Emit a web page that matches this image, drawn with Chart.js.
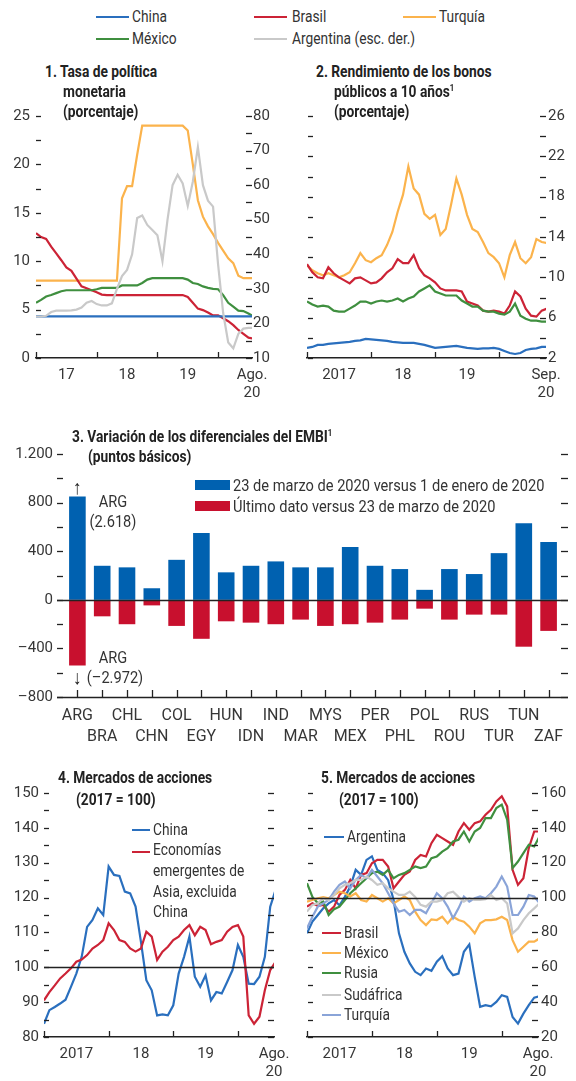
<!DOCTYPE html>
<html lang="es">
<head>
<meta charset="utf-8">
<title>Mercados emergentes</title>
<script src="https://cdn.jsdelivr.net/npm/chart.js@4.4.1/dist/chart.umd.min.js"></script>
<style>
  body { margin: 0; background: #fff; }
  #hoja { position: relative; width: 576px; height: 1081px; overflow: hidden;
          font-family: Roboto, 'Liberation Sans', sans-serif; color: #333; }
  canvas { position: absolute; }
  .txt { position: absolute; white-space: nowrap; font-size: 16px; line-height: 1;
         transform: translateY(-50%) scaleX(0.86); transform-origin: 0 50%; }
  .b { font-weight: bold; color: #222; }
  .ctr { transform: translate(-50%, -50%) scaleX(0.86); transform-origin: 50% 50%; }
  .raya { position: absolute; height: 2px; }
  sup { font-size: 9px; vertical-align: 6px; }
</style>
</head>
<body>
<div id="hoja">
  <canvas id="g1" width="290" height="300" style="left:0;top:100px"></canvas>
  <canvas id="g2" width="286" height="300" style="left:290px;top:100px"></canvas>
  <canvas id="g3" width="576" height="310" style="left:0;top:440px"></canvas>
  <canvas id="g4" width="290" height="301" style="left:0;top:780px"></canvas>
  <canvas id="g5" width="286" height="301" style="left:290px;top:780px"></canvas>
</div>
<script>
// Colores
const AZUL = '#2a6fbe', ROJO = '#cc2336', NARANJA = '#fbb34c', VERDE = '#3f8f3f', GRIS = '#c9c9c9', CELESTE = '#8aa4d8';

// 1. Tasa de politica monetaria (mensual, ene-2017 ...)
const tasaChina = [4.3,4.3,4.3,4.3,4.3,4.3,4.3,4.3,4.3,4.3,4.3,4.3,4.3,4.3,4.3,4.3,4.3,4.3,4.3,4.3,4.3,4.3,4.3,4.3,4.3,4.3,4.3,4.3,4.3,4.3,4.3,4.3,4.3,4.3,4.3,4.3,4.3,4.3,4.3,4.3,4.3,4.3,4.3,4.3];
const tasaBrasil = [12.9,12.5,12.3,11.5,10.8,10.1,9.35,9.0,8.2,7.4,7.2,7.0,6.8,6.55,6.5,6.5,6.5,6.5,6.5,6.5,6.5,6.5,6.5,6.5,6.5,6.5,6.5,6.5,6.5,6.5,6.3,5.7,5.1,4.95,4.7,4.4,4.4,4.1,3.8,3.4,2.9,2.5,2.1,2.0];
const tasaTurquia = [8,8,8,8,8,8,8,8,8,8,8,8,8,8,8,8,8,16.5,17.75,17.75,21,24,24,24,24,24,24,24,24,24,23.5,20,16.3,14.6,13.6,12.8,11.9,11.1,10.3,9.8,8.5,8.25,8.25,8.25];
const tasaMexico = [5.7,6.0,6.35,6.5,6.7,6.9,7.0,7.0,7.0,7.0,7.0,7.0,7.1,7.25,7.25,7.25,7.25,7.5,7.5,7.5,7.5,7.75,8.1,8.25,8.25,8.25,8.25,8.25,8.25,8.25,8.1,7.75,7.65,7.4,7.25,7.15,7.1,6.5,5.7,5.3,4.9,4.85,4.6,4.3];
const tasaArgentina = [22,22,22.2,23.3,23.7,23.7,23.7,23.8,24,24.6,26,26.5,25.6,25.2,25.2,25.8,30,33.7,35.5,40,50.5,51.2,48.5,47,45.5,38,50,60,63,60.5,54,61,71,60,55.5,53.8,37,23,14.5,12.8,17,18.5,18.7,18.7];

// 2. Rendimiento de los bonos publicos a 10 anos
const bonoTurquia = [11.2,10.7,10.4,10.2,10.4,10.2,10.0,10.2,10.5,11.4,12.4,11.7,11.5,11.9,12.2,13.2,14.5,16.5,18.2,21.0,18.8,18.2,16.3,15.8,16.2,14.2,14.8,17.2,19.8,18.2,16.2,14.8,14.5,13.5,12.4,12.0,11.4,10.0,12.2,13.5,11.9,11.4,12.0,13.8,13.5,13.4];
const bonoBrasil = [11.3,10.5,10.0,9.9,11.0,10.4,10.0,9.7,9.4,9.9,10.0,9.7,9.4,9.5,9.9,10.5,10.9,11.8,11.4,11.4,12.2,10.9,10.2,9.9,9.5,8.9,8.7,8.7,8.7,8.6,7.6,7.4,7.2,6.7,6.6,6.7,6.6,6.4,7.2,8.6,8.1,6.9,6.2,6.1,6.7,6.9];
const bonoMexico = [7.6,7.3,7.1,7.2,7.1,6.7,6.6,6.6,6.9,7.2,7.6,7.6,7.4,7.6,7.7,7.6,7.7,7.9,7.6,7.9,8.1,8.6,8.9,9.2,8.6,8.4,8.2,8.2,8.2,7.7,7.4,7.1,7.1,6.7,6.6,6.6,6.4,6.3,6.6,7.4,6.2,5.9,5.7,5.7,5.6,5.6];
const bonoChina = [3.0,3.1,3.3,3.3,3.4,3.45,3.5,3.55,3.6,3.7,3.75,3.9,3.85,3.8,3.75,3.7,3.6,3.55,3.5,3.5,3.5,3.4,3.3,3.15,3.0,3.05,3.1,3.15,3.2,3.1,3.0,2.95,2.9,2.95,2.95,3.0,2.9,2.7,2.5,2.4,2.5,2.8,2.9,2.95,3.1,3.1];

// 3. Variacion de los diferenciales del EMBI
const paises = ['ARG','BRA','CHL','CHN','COL','EGY','HUN','IDN','IND','MAR','MYS','MEX','PER','PHL','POL','ROU','RUS','TUR','TUN','ZAF'];
const difMarzo = [2618,280,267,95,329,550,226,280,316,267,267,435,280,253,82,253,212,384,631,476];
const difUltimo = [-2972,-136,-201,-46,-215,-321,-177,-188,-201,-163,-215,-201,-188,-163,-73,-163,-122,-122,-386,-256];
const topeSup = 850, topeInf = -540;   // ARG se corta en el grafico

// 4. Mercados de acciones (2017 = 100)
const accChina = [83.8,87.7,88.6,89.6,90.7,94.4,98.2,103,111.6,113.6,116.9,115.0,128.9,126.5,126.2,121.7,121.2,117.4,107.3,96.3,93.4,86.2,86.5,86.2,89.1,98.2,103,108.8,97.3,94.4,97.7,90.5,92.9,92.5,95.8,99.2,106.4,103,95.3,95.2,97.3,103,117.4,122.2];
const accAsia = [90.5,92.9,94.8,96.8,98.2,99.7,101.6,102.2,103.5,105.4,106.4,107.8,112.6,110.7,107.8,107.3,105.4,104.5,105.4,110.2,108.8,102.1,104.5,105.9,107.8,108.8,110.7,112.1,109.2,111.6,110.7,106.6,107.3,107.8,110.2,111.6,112.1,108.8,86.2,83.8,85.8,93.4,99.2,101.6];

// 5. Mercados de acciones (2017 = 100)
const accArgentina = [79.5,86.2,90,93.8,96.7,98.6,95.6,100.4,106.3,115.9,113,121.6,123.6,115.9,114,110,98.8,79.5,68.9,62.2,57.4,55.5,59.3,58,63.2,66.4,59.3,55.5,56.4,68.9,73.1,54.5,37.3,38.3,37.6,40.1,44,43,31.5,27.7,33.4,38.3,42.6,43.4];
const accBrasil = [94.8,96.7,95.2,95.8,91.9,94.8,101.5,104.4,110.1,105.3,113,114,119.7,121.6,121.6,117.8,105.3,109.2,113,114.9,121.6,124.5,123.6,131.2,136,134.1,132.2,130.3,137.9,142.7,138.9,142.7,143.7,147.5,150.4,155.2,158.1,152.3,115.9,107.3,111.1,128.4,137.9,137.9];
const accRusia = [108.2,100.4,96.7,97.7,90,93.3,94.8,98.6,102.5,105.3,108.2,111.1,114,114.9,113,115.9,111.1,113,114,115.9,117.8,116.9,117.8,122.6,123.6,126.4,128.4,132.2,133.2,137.9,132.2,137.9,139.9,145.6,145.6,151.4,153.3,144.7,116.9,120.7,125.5,130.3,129.3,135.1];
const accMexico = [97.7,98.6,99.6,100.2,99.6,101.5,103.4,102.5,100.6,102.5,98.6,97.7,101.5,99.6,97.7,99.6,96.7,98.6,100.6,98.6,91.9,87.1,84.2,87.5,87.1,89,85.2,89,87.1,86.2,83.3,79.5,85.2,87.1,87.1,87.5,89,87.1,75.6,68.9,71.8,74.7,74.7,76.6];
const accSudafrica = [91.9,95.8,96.7,99.6,98.6,101.5,105.3,107.3,108.2,110.1,110.1,112.1,110.1,107.3,108.2,105.3,103.4,101.5,101.5,103.4,100.4,95.8,94.8,97.7,97.7,98.6,102.5,103.4,100.4,97.7,99.6,98.6,98.6,99,101.5,98.6,99.6,96.7,79.5,82.3,87.1,91,93.8,96.7];
const accTurquia = [82.3,89,94.8,96.7,98.6,103.4,107.3,109.2,105.3,110.1,113,111.1,115.9,112.1,108.2,102.5,96.7,91.9,92.9,90,92.9,92.9,91,96.7,102.5,99.6,94.8,88.1,93.8,100.6,97.7,99.6,100.6,99.6,102.5,106.3,112.1,106.3,90,90,94.8,101.5,100.6,96.7];

// Etiquetas del eje de tiempo (mes 0 = enero de 2017)
const anos = ['17', '18', '19'];
const anos2 = ['2017', '18', '19'];
const finAgo = ['Ago.', '20'];
const finSep = ['Sep.', '20'];
const cortesAno = [0, 12, 24, 36];

Chart.defaults.font.family = "Roboto, 'Liberation Sans', sans-serif";
Chart.defaults.font.size = 15;
Chart.defaults.color = '#363636';
Chart.defaults.animation = false;
Chart.defaults.plugins.legend.display = false;
Chart.defaults.plugins.tooltip.enabled = false;

function fmt(v) {
    const a = Math.abs(v);
    let s = a >= 1000 ? Math.floor(a / 1000) + '.' + String(a % 1000).padStart(3, '0') : String(a);
    return v < 0 ? '\u2013' + s : s;
}

// marcas cortas de los ejes y lineas de referencia
const marcas = {
    id: 'marcas',
    afterDraw(chart, args, o) {
        const ctx = chart.ctx, a = chart.chartArea;
        ctx.save();
        ctx.strokeStyle = '#222';
        ctx.lineWidth = 1.3;
        (o.y || []).forEach(m => {
            const s = chart.scales[m.id];
            const x = m.lado === 'left' ? a.left : a.right;
            s.ticks.forEach(t => {
                const py = Math.round(s.getPixelForValue(t.value)) + 0.5;
                ctx.beginPath(); ctx.moveTo(x + m.d0, py); ctx.lineTo(x + m.d1, py); ctx.stroke();
            });
        });
        const sx = chart.scales.x;
        (o.x || []).forEach(v => {
            const px = Math.round(sx.getPixelForValue(v)) + 0.5;
            ctx.beginPath(); ctx.moveTo(px, a.bottom); ctx.lineTo(px, a.bottom - (o.xLen || 6)); ctx.stroke();
        });
        ctx.lineWidth = 1.5;
        (o.h || []).forEach(l => {
            const py = Math.round(chart.scales[l.id].getPixelForValue(l.v)) + 0.5;
            ctx.beginPath(); ctx.moveTo(a.left + (l.d0 || 0), py); ctx.lineTo(a.right + (l.d1 || 0), py); ctx.stroke();
        });
        ctx.restore();
    }
};

function ejeY(pos, min, max, paso, etiqueta, ancho, pad) {
    return {
        type: 'linear', position: pos, min: min, max: max,
        grid: { display: false, drawTicks: false },
        border: { display: false },
        ticks: {
            stepSize: paso, padding: pad, autoSkip: false, display: !!etiqueta,
            callback: v => (etiqueta && etiqueta(v)) ? fmt(v) : ''
        },
        afterFit(s) { s.width = ancho; s.paddingTop = 0; s.paddingBottom = 0; }
    };
}

function ejeX(max, nombres, fin, alto) {
    const pos = [6, 18, 30, max];
    const txt = nombres.concat([fin]);
    return {
        type: 'linear', min: 0, max: max,
        grid: { display: false, drawTicks: false },
        border: { display: true, color: '#222', width: 1.5 },
        afterBuildTicks(s) { s.ticks = pos.map(v => ({ value: v })); },
        ticks: {
            autoSkip: false, maxRotation: 0, padding: 9,
            font: { size: 15, lineHeight: 1.15 },
            callback: v => txt[pos.indexOf(v)]
        },
        afterFit(s) { s.height = alto; s.paddingLeft = 0; s.paddingRight = 0; }
    };
}

function serie(vals, color, eje) {
    return {
        data: vals.map((v, i) => ({ x: i, y: v })),
        borderColor: color, borderWidth: 2.2, pointRadius: 0, tension: 0,
        yAxisID: eje || 'y'
    };
}

// Panel 1
new Chart(document.getElementById('g1'), {
    type: 'line',
    data: { datasets: [
        serie(tasaArgentina, GRIS, 'y2'),
        serie(tasaChina, AZUL),
        serie(tasaMexico, VERDE),
        serie(tasaBrasil, ROJO),
        serie(tasaTurquia, NARANJA)
    ] },
    options: {
        responsive: false,
        layout: { padding: { top: 16 } },
        scales: {
            x: ejeX(42.7, anos, finAgo, 42),
            y: ejeY('left', 0, 25, 2.5, v => v % 5 === 0, 36, 6),
            y2: ejeY('right', 10, 80, 5, v => v % 10 === 0, 38, 1)
        },
        plugins: { marcas: {
            y: [{ id: 'y', lado: 'left', d0: 0, d1: 5 }, { id: 'y2', lado: 'right', d0: -6, d1: 0 }],
            x: cortesAno
        } }
    },
    plugins: [marcas]
});

// Panel 2
new Chart(document.getElementById('g2'), {
    type: 'line',
    data: { datasets: [
        serie(bonoChina, AZUL, 'y2'),
        serie(bonoMexico, VERDE, 'y2'),
        serie(bonoBrasil, ROJO, 'y2'),
        serie(bonoTurquia, NARANJA, 'y2')
    ] },
    options: {
        responsive: false,
        layout: { padding: { top: 16 } },
        scales: {
            x: ejeX(44.8, anos2, finSep, 42),
            y: ejeY('left', 2, 26, 2, null, 17, 0),
            y2: ejeY('right', 2, 26, 2, v => (v - 2) % 4 === 0, 30, 2)
        },
        plugins: { marcas: {
            y: [{ id: 'y', lado: 'left', d0: 1, d1: 6 }, { id: 'y2', lado: 'right', d0: -6, d1: 0 }],
            x: cortesAno
        } }
    },
    plugins: [marcas]
});

// Panel 3
new Chart(document.getElementById('g3'), {
    type: 'bar',
    data: {
        labels: paises.map((p, i) => i % 2 ? ['', p] : p),
        datasets: [
            { data: difMarzo.map(v => Math.min(v, topeSup)), backgroundColor: '#0061b0' },
            { data: difUltimo.map(v => Math.max(v, topeInf)), backgroundColor: '#c8102e' }
        ]
    },
    options: {
        responsive: false,
        layout: { padding: { top: 14 } },
        datasets: { bar: { categoryPercentage: 1, barPercentage: 0.67 } },
        scales: {
            x: {
                type: 'category', stacked: true, offset: true,
                grid: { display: false, drawTicks: false },
                border: { display: false },
                ticks: { autoSkip: false, maxRotation: 0, padding: 8, font: { size: 16, lineHeight: 1.35 } },
                afterFit(s) { s.height = 53; s.paddingLeft = 0; s.paddingRight = 0; }
            },
            y: Object.assign(ejeY('left', -800, 1200, 200, v => v % 400 === 0, 65, 12), { stacked: true }),
            y2: ejeY('right', -800, 1200, 200, null, 15, 0)
        },
        plugins: { marcas: {
            y: [{ id: 'y', lado: 'left', d0: -8, d1: -2 }, { id: 'y2', lado: 'right', d0: 0, d1: 7 }],
            x: paises.map((p, i) => i), xLen: 7,
            h: [{ id: 'y', v: 0, d0: -8, d1: 7 }, { id: 'y', v: -800, d0: -8, d1: 7 }]
        } }
    },
    plugins: [marcas]
});

// Panel 4
new Chart(document.getElementById('g4'), {
    type: 'line',
    data: { datasets: [
        serie(accAsia, ROJO),
        serie(accChina, AZUL)
    ] },
    options: {
        responsive: false,
        layout: { padding: { top: 13 } },
        scales: {
            x: ejeX(42.7, anos2, finAgo, 44),
            y: ejeY('left', 80, 150, 5, v => v % 10 === 0, 44, 5),
            y2: ejeY('right', 80, 150, 5, null, 16, 0)
        },
        plugins: { marcas: {
            y: [{ id: 'y', lado: 'left', d0: 0, d1: 5 }, { id: 'y2', lado: 'right', d0: -6, d1: 0 }],
            x: cortesAno,
            h: [{ id: 'y', v: 100 }]
        } }
    },
    plugins: [marcas]
});

// Panel 5
new Chart(document.getElementById('g5'), {
    type: 'line',
    data: { datasets: [
        serie(accSudafrica, GRIS, 'y2'),
        serie(accTurquia, CELESTE, 'y2'),
        serie(accMexico, NARANJA, 'y2'),
        serie(accRusia, VERDE, 'y2'),
        serie(accBrasil, ROJO, 'y2'),
        serie(accArgentina, AZUL, 'y2')
    ] },
    options: {
        responsive: false,
        layout: { padding: { top: 13 } },
        scales: {
            x: ejeX(42.7, anos2, finAgo, 44),
            y: ejeY('left', 20, 160, 10, null, 17, 0),
            y2: ejeY('right', 20, 160, 10, v => v % 20 === 0, 38, 3)
        },
        plugins: { marcas: {
            y: [{ id: 'y', lado: 'left', d0: 1, d1: 6 }, { id: 'y2', lado: 'right', d0: -6, d1: 0 }],
            x: cortesAno,
            h: [{ id: 'y2', v: 100 }]
        } }
    },
    plugins: [marcas]
});

// Textos: titulos y leyendas
const hoja = document.getElementById('hoja');
function texto(t, x, y, clase, extra) {
    const d = document.createElement('div');
    d.className = 'txt' + (clase ? ' ' + clase : '');
    d.innerHTML = t;
    d.style.left = x + 'px';
    d.style.top = y + 'px';
    if (extra) Object.assign(d.style, extra);
    hoja.appendChild(d);
}
function raya(x0, x1, y, color) {
    const d = document.createElement('div');
    d.className = 'raya';
    Object.assign(d.style, { left: x0 + 'px', width: (x1 - x0) + 'px', top: (y - 1) + 'px', background: color });
    hoja.appendChild(d);
}
function caja(x0, x1, y0, y1, color) {
    const d = document.createElement('div');
    Object.assign(d.style, { position: 'absolute', left: x0 + 'px', width: (x1 - x0) + 'px', top: y0 + 'px', height: (y1 - y0) + 'px', background: color });
    hoja.appendChild(d);
}

// leyenda superior
raya(96, 129, 17, AZUL);    texto('China', 132, 17);
raya(254, 287, 17, ROJO);   texto('Brasil', 292, 17);
raya(403, 436, 17, NARANJA); texto('Turquía', 439, 17);
raya(96, 129, 39, VERDE);   texto('México', 132, 39);
raya(254, 287, 39, GRIS);   texto('Argentina (esc. der.)', 292, 39);

// titulos
texto('1. Tasa de política', 45, 72, 'b');
texto('monetaria', 63, 92, 'b');
texto('(porcentaje)', 63, 112, 'b');
texto('2. Rendimiento de los bonos', 316, 72, 'b');
texto('públicos a 10 años<sup>1</sup>', 334, 92, 'b');
texto('(porcentaje)', 334, 112, 'b');
texto('3. Variación de los diferenciales del EMBI<sup>1</sup>', 72, 437, 'b');
texto('(puntos básicos)', 88, 457, 'b');
texto('4. Mercados de acciones', 58, 778, 'b');
texto('(2017 = 100)', 76, 800, 'b');
texto('5. Mercados de acciones', 321, 778, 'b');
texto('(2017 = 100)', 339, 800, 'b');

// panel 3: leyenda y notas de ARG
caja(195, 230, 480, 490, '#0061b0');
texto('23 de marzo de 2020 versus 1 de enero de 2020', 233, 485, '', { fontSize: '17px' });
caja(195, 230, 501, 511, '#c8102e');
texto('Último dato versus 23 de marzo de 2020', 233, 506, '', { fontSize: '17px' });
texto('↑', 77, 487, 'ctr b', { fontSize: '20px' });
texto('ARG', 113, 501, 'ctr', { fontSize: '17px' });
texto('(' + fmt(difMarzo[0]) + ')', 113, 521, 'ctr', { fontSize: '17px' });
texto('ARG', 113, 657, 'ctr', { fontSize: '17px' });
texto('↓', 77, 677, 'ctr b', { fontSize: '20px' });
texto('(' + fmt(difUltimo[0]) + ')', 115, 677, 'ctr', { fontSize: '17px' });

// panel 4: leyenda
raya(132, 150, 830, AZUL);  texto('China', 153, 830);
raya(132, 150, 852, ROJO);  texto('Economías', 153, 850);
texto('emergentes de', 153, 871);
texto('Asia, excluida', 153, 892);
texto('China', 153, 912);

// panel 5: leyenda
raya(324, 344, 837, AZUL);  texto('Argentina', 347, 837);
raya(322, 341, 933, ROJO);  texto('Brasil', 344, 933);
raya(322, 341, 953, NARANJA); texto('México', 344, 953);
raya(322, 341, 973, VERDE); texto('Rusia', 344, 973);
raya(322, 341, 995, GRIS);  texto('Sudáfrica', 344, 995);
raya(322, 341, 1015, CELESTE); texto('Turquía', 344, 1015);
</script>
</body>
</html>
